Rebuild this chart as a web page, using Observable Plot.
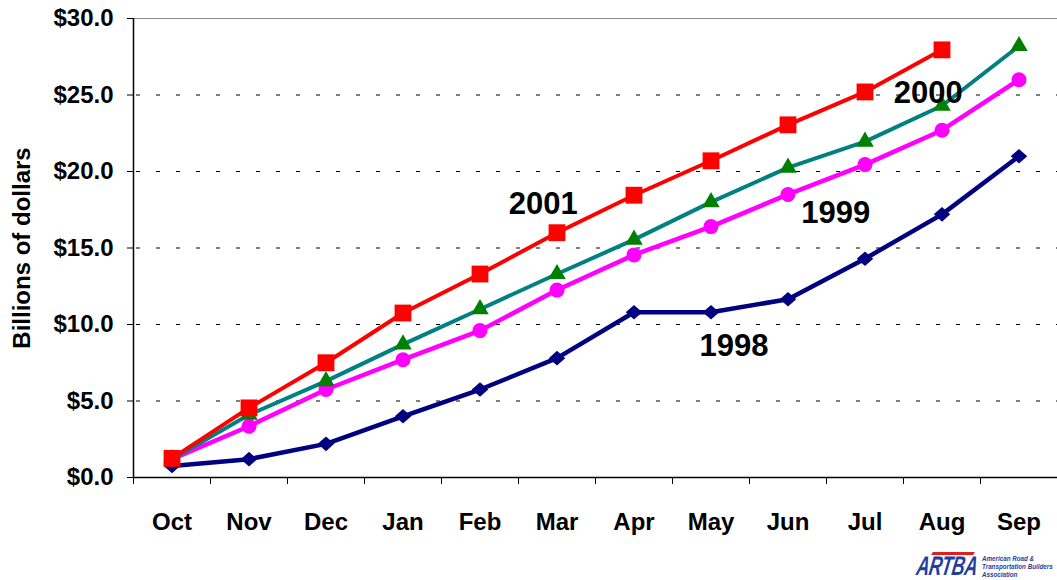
<!DOCTYPE html>
<html>
<head>
<meta charset="utf-8">
<script src="https://cdn.jsdelivr.net/npm/d3@7"></script>
<script src="https://cdn.jsdelivr.net/npm/@observablehq/plot@0.6"></script>
<style>
  html, body { margin: 0; padding: 0; background: #fff; }
  #wrap { position: relative; width: 1057px; height: 580px; overflow: hidden; }
  #logo { position: absolute; left: 914px; top: 550px; width: 143px; height: 30px; font-family: "Liberation Sans", Arial, sans-serif; color: #1f3f9f; }
  #logo .mark { position: absolute; left: 5px; top: 4px; height: 24px; font-size: 27px; font-weight: 900; font-style: italic; line-height: 24px; transform-origin: 0 0; transform: scaleX(0.66) skewX(-14deg); letter-spacing: -0.5px; }
  #logo .swoosh { position: absolute; left: 18px; top: 2px; width: 42px; height: 3px; background: #e02020; transform: skewX(-30deg); }
  #logo .txt { position: absolute; left: 68px; top: 5px; font-size: 8px; font-weight: bold; font-style: italic; line-height: 8px; white-space: nowrap; transform-origin: 0 0; transform: scaleX(0.78); }
</style>
</head>
<body>
<div id="wrap">
  <div id="chart"></div>
  <div id="logo"><div class="swoosh"></div><div class="mark">ARTBA</div><div class="txt">American Road &amp;<br>Transportation Builders<br>Association</div></div>
</div>
<script>
const months = ["Oct","Nov","Dec","Jan","Feb","Mar","Apr","May","Jun","Jul","Aug","Sep"];
const v1998 = [0.75, 1.2, 2.2, 4.0, 5.75, 7.8, 10.8, 10.8, 11.65, 14.3, 17.2, 21.0];
const v1999 = [1.2, 3.35, 5.75, 7.7, 9.6, 12.25, 14.55, 16.4, 18.5, 20.45, 22.7, 26.0];
const v2000 = [1.2, 4.1, 6.3, 8.7, 11.0, 13.3, 15.55, 18.0, 20.25, 21.95, 24.3, 28.2];
const v2001 = [1.25, 4.55, 7.5, 10.75, 13.3, 16.0, 18.45, 20.7, 23.05, 25.2, 27.95];
const yTicks = [0, 5, 10, 15, 20, 25, 30];
const seriesLabels = [
  {text: "2001", m: 4.82, v: 17.9},
  {text: "1999", m: 8.62, v: 17.25},
  {text: "2000", m: 9.82, v: 25.1},
  {text: "1998", m: 7.3, v: 8.6}
];

const idx = months.map((_, i) => i);
const boundaries = d3.range(-0.5, months.length, 1);
const toRows = vals => vals.map((v, i) => ({i, v}));
const r1998 = toRows(v1998), r1999 = toRows(v1999), r2000 = toRows(v2000), r2001 = toRows(v2001);

const diamond = {
  draw(ctx, size) {
    const rx = Math.sqrt(size) * 0.62, ry = Math.sqrt(size) * 0.55;
    ctx.moveTo(0, -ry); ctx.lineTo(rx, 0); ctx.lineTo(0, ry); ctx.lineTo(-rx, 0); ctx.closePath();
  }
};

const font = "'Liberation Sans', Arial, Helvetica, sans-serif";

const chart = Plot.plot({
  width: 1057,
  height: 580,
  marginLeft: 133,
  marginRight: 0,
  marginTop: 18,
  marginBottom: 103,
  style: {fontFamily: font, fontSize: "24px", fontWeight: "bold", color: "#000", background: "#fff", overflow: "visible"},
  x: {type: "linear", domain: [-0.5, months.length - 0.5]},
  y: {domain: [0, 30]},
  marks: [
    Plot.ruleY(yTicks.filter(d => d > 0), {stroke: "#000", strokeWidth: 1, strokeDasharray: "4,16", strokeDashoffset: -3}),
    Plot.ruleY([30], {stroke: "#888", strokeWidth: 1}),
    Plot.axisY(yTicks, {tickSize: 6, tickPadding: 14, tickFormat: d => "$" + d.toFixed(1), label: null, fontSize: 24, fontWeight: "bold"}),
    Plot.axisX(boundaries, {tickSize: 7, tickFormat: () => "", label: null}),
    Plot.axisX(idx, {tickSize: 0, tickPadding: 35, tickFormat: i => months[i], label: null, fontSize: 24, fontWeight: "bold"}),
    Plot.ruleX([-0.5], {stroke: "#000", strokeWidth: 1.5}),
    Plot.ruleY([0], {stroke: "#000", strokeWidth: 1.5}),
    Plot.line(r1998, {x: "i", y: "v", stroke: "#000080", strokeWidth: 4.5}),
    Plot.dot(r1998, {x: "i", y: "v", symbol: diamond, r: 7.5, fill: "#000080"}),
    Plot.line(r1999, {x: "i", y: "v", stroke: "#FF00FF", strokeWidth: 4.5}),
    Plot.dot(r1999, {x: "i", y: "v", symbol: "circle", r: 7.5, fill: "#FF00FF"}),
    Plot.line(r2000, {x: "i", y: "v", stroke: "#008080", strokeWidth: 4}),
    Plot.dot(r2000, {x: "i", y: "v", symbol: "triangle", r: 6.5, fill: "#008000"}),
    Plot.line(r2001, {x: "i", y: "v", stroke: "#FF0000", strokeWidth: 4}),
    Plot.dot(r2001, {x: "i", y: "v", symbol: "square", r: 9.5, fill: "#FF0000"}),
    Plot.text(seriesLabels, {x: "m", y: "v", text: "text", fontSize: 31, fontWeight: "bold", fill: "#000"}),
    Plot.text(["Billions of dollars"], {frameAnchor: "left", textAnchor: "middle", dx: -111, rotate: -90, fontSize: 24, fontWeight: "bold", fill: "#000"})
  ]
});
document.getElementById("chart").appendChild(chart);
</script>
</body>
</html>
